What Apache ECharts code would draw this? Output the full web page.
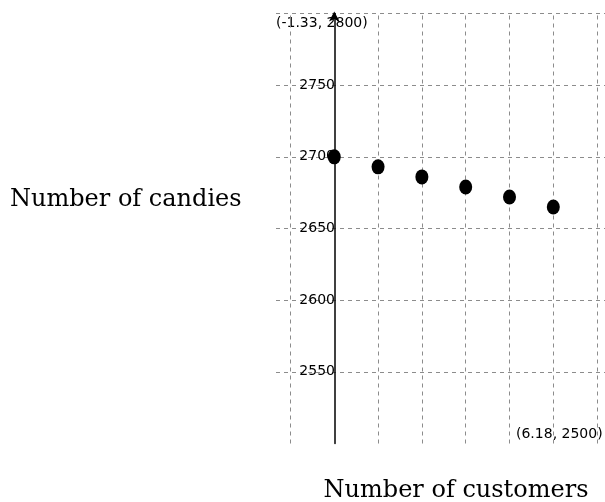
<!DOCTYPE html>
<html><head><meta charset="utf-8">
<script src="https://cdn.jsdelivr.net/npm/echarts@6/dist/echarts.min.js"></script>
<style>html,body{margin:0;padding:0;background:#fff}#c{width:605px;height:502px}</style>
</head><body><div id="c"></div>
<script>
const customers = [0, 1, 2, 3, 4, 5];
const candies = [2700, 2693, 2686, 2679, 2672, 2665];
const xGridTicks = [-1, 1, 2, 3, 4, 5, 6];
const xRange = [-1.33, 6.18];
const yRange = [2500, 2800];
const yInterval = 50;
const xTitle = 'Number of customers';
const yTitle = 'Number of candies';

const chart = echarts.init(document.getElementById('c'));
const dash = {color: '#8c8c8c', type: [4, 4], width: 1};
chart.setOption({
  animation: false,
  grid: {left: 276, top: 13.5, right: -4.5, bottom: 58.5, containLabel: false},
  xAxis: {
    type: 'value', min: xRange[0], max: xRange[1],
    axisLine: {show: false}, axisTick: {show: false}, axisLabel: {show: false}, splitLine: {show: false}
  },
  yAxis: {
    type: 'value', min: yRange[0], max: yRange[1], interval: yInterval, z: 10,
    axisLine: {show: true, onZero: true, symbol: ['none', 'arrow'], symbolSize: [8, 10], symbolOffset: [0, 2],
      lineStyle: {color: '#000', width: 1.5}},
    axisTick: {show: false},
    axisLabel: {showMinLabel: false, showMaxLabel: false, margin: -59, color: '#000',
      fontFamily: 'DejaVu Sans', fontSize: 14, formatter: v => String(v)},
    splitLine: {show: true, showMinLine: false, lineStyle: dash}
  },
  graphic: [
    {type: 'text', left: 276, top: 16, style: {text: '(' + xRange[0] + ', ' + yRange[1] + ')', fontFamily: 'DejaVu Sans', fontSize: 14, fill: '#000'}},
    {type: 'text', left: 516, top: 427, style: {text: '(' + xRange[1] + ', ' + yRange[0] + ')', fontFamily: 'DejaVu Sans', fontSize: 14, fill: '#000'}},
    {type: 'text', x: 10, y: 200, style: {text: yTitle, fontFamily: 'DejaVu Serif', fontSize: 24, fill: '#000', align: 'left', verticalAlign: 'middle'}},
    {type: 'text', x: 456, y: 491, style: {text: xTitle, fontFamily: 'DejaVu Serif', fontSize: 24, fill: '#000', align: 'center', verticalAlign: 'middle'}}
  ],
  series: [{
    type: 'scatter', z: 20,
    data: customers.map((x, i) => [x, candies[i]]),
    symbol: 'circle', symbolSize: [13, 15],
    itemStyle: {color: '#000', opacity: 1},
    markLine: {
      silent: true, symbol: 'none', label: {show: false},
      lineStyle: dash, z: 1,
      data: xGridTicks.map(v => ({xAxis: v}))
    }
  }]
});
</script></body></html>
